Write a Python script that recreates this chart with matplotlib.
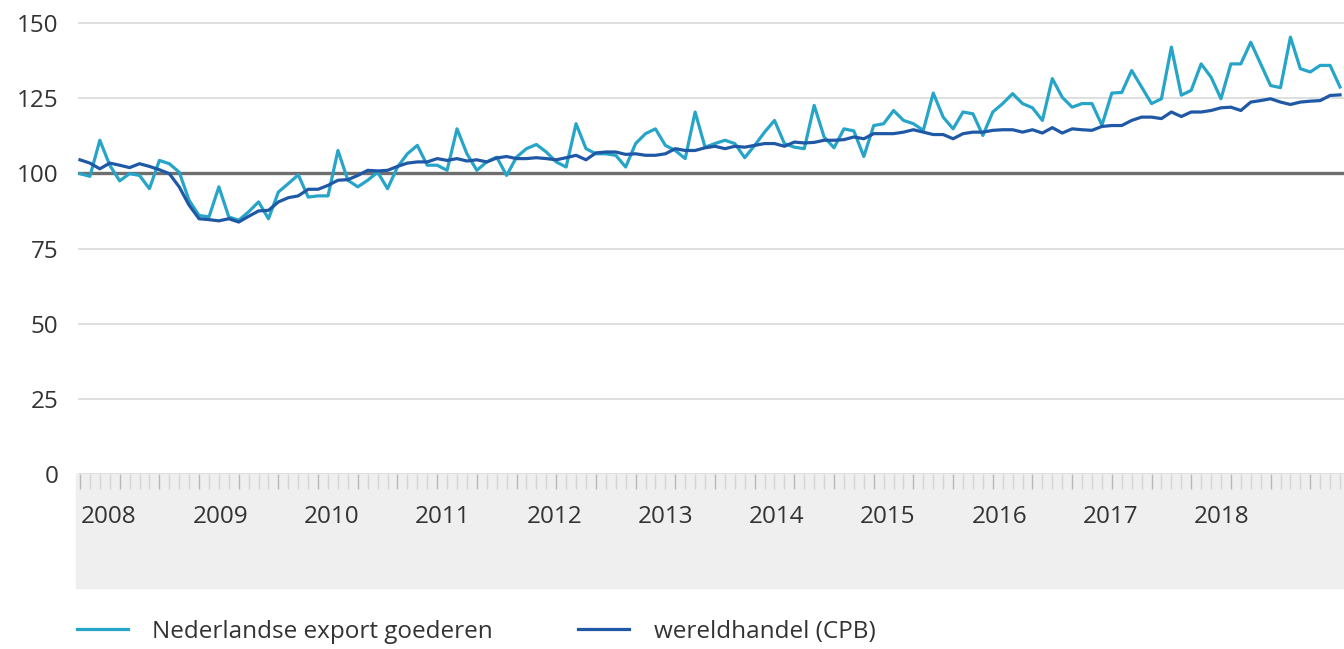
import numpy as np
import matplotlib.pyplot as plt
from matplotlib.patches import Rectangle

# maandcijfers, januari 2008 t/m augustus 2018 (index 2008 = 100)
export = [
    99.9, 99.0, 111.0, 102.7, 97.5, 99.9, 99.3, 94.9, 104.3, 103.2, 100.4, 91.0,
    86.0, 85.5, 95.5, 85.5, 84.4, 87.2, 90.5, 84.9, 93.8, 96.6, 99.5, 92.1,
    92.5, 92.5, 107.6, 97.7, 95.5, 97.7, 100.4, 94.9, 102.1, 106.5, 109.3, 102.7,
    102.7, 101.0, 114.8, 106.5, 101.0, 103.8, 105.4, 99.3, 105.4, 108.2, 109.6, 107.1,
    103.8, 102.1, 116.5, 108.2, 106.5, 106.5, 106.0, 102.1, 109.9, 113.2, 114.8, 109.3,
    107.6, 104.9, 120.4, 108.7, 109.9, 111.0, 109.9, 105.2, 109.3, 113.7, 117.6, 109.9,
    108.7, 108.2, 122.6, 112.1, 108.5, 114.8, 114.1, 105.6, 115.9, 116.5, 120.9, 117.6,
    116.5, 114.3, 126.7, 118.7, 114.8, 120.4, 119.8, 112.6, 120.4, 123.2, 126.5, 123.2,
    121.8, 117.6, 131.5, 125.3, 122.0, 123.2, 123.2, 116.0, 126.7, 126.9, 134.2, 128.7,
    123.2, 124.8, 142.0, 126.0, 127.6, 136.4, 132.0, 124.8, 136.4, 136.4, 143.6, 136.4,
    129.2, 128.5, 145.3, 134.8, 133.7, 135.9, 135.9, 128.7,
]
wereldhandel = [
    104.5, 103.4, 101.5, 103.4, 102.7, 101.9, 103.2, 102.3, 101.2, 99.9, 95.5, 89.4,
    84.9, 84.6, 84.2, 84.9, 83.8, 85.7, 87.5, 87.7, 90.5, 91.9, 92.5, 94.7,
    94.7, 96.0, 97.7, 97.9, 99.3, 101.0, 100.8, 101.0, 102.3, 103.4, 103.8, 103.8,
    104.9, 104.3, 104.9, 104.1, 104.5, 103.8, 105.1, 105.6, 104.9, 104.9, 105.2, 104.9,
    104.5, 105.2, 106.0, 104.5, 106.8, 107.1, 107.1, 106.3, 106.5, 106.0, 106.0, 106.5,
    108.2, 107.6, 107.6, 108.5, 109.0, 108.2, 109.0, 108.7, 109.3, 109.9, 109.9, 109.0,
    110.4, 110.1, 110.3, 111.0, 111.0, 111.2, 112.1, 111.5, 113.2, 113.2, 113.2, 113.7,
    114.5, 113.7, 112.9, 112.9, 111.5, 113.2, 113.7, 113.7, 114.3, 114.5, 114.5, 113.7,
    114.5, 113.4, 115.2, 113.4, 114.8, 114.5, 114.3, 115.6, 115.9, 115.9, 117.6, 118.7,
    118.7, 118.2, 120.4, 118.9, 120.4, 120.4, 120.9, 121.8, 122.0, 120.9, 123.7, 124.2,
    124.8, 123.7, 122.9, 123.7, 124.0, 124.2, 125.9, 126.1,
]
jaren = ['2008', '2009', '2010', '2011', '2012', '2013',
         '2014', '2015', '2016', '2017', '2018']
labels = ['Nederlandse export goederen', 'wereldhandel (CPB)']

plt.rcParams['font.family'] = ['Open Sans', 'DejaVu Sans']

W, H = 1344, 649
fs = 17.5
fig = plt.figure(figsize=(W / 100, H / 100), dpi=100)
ax = fig.add_axes([78 / W, 175 / H, 1266 / W, 454 / H])

maand = np.arange(len(export))

# grijze band onder de x-as
band = Rectangle((76 / W, 61 / H), (W - 76) / W, 114 / H,
                 transform=fig.transFigure, color='#efefef', zorder=-1)
fig.add_artist(band)

ax.axhline(100, color='#6e6e6e', lw=2.4, zorder=2)
l1, = ax.plot(maand, export, color='#27a5c9', lw=2.3, zorder=3)
l2, = ax.plot(maand, wereldhandel, color='#1f59a6', lw=2.3, zorder=4)

ax.set_ylim(0, 151)
ax.set_xlim(-0.2, 127.4)
ax.set_yticks(range(0, 151, 25))
ax.grid(axis='y', color='#d9d9d9', lw=1.2)
ax.set_axisbelow(True)
for s in ax.spines.values():
    s.set_visible(False)

ax.tick_params(axis='y', length=0, pad=14, labelsize=fs, labelcolor='#333333')
ax.set_xticks(np.arange(0, len(export), 4))
ax.set_xticks(maand, minor=True)
ax.set_xticklabels([])
ax.tick_params(axis='x', which='major', length=11, width=1, color='#b8b8b8')
ax.tick_params(axis='x', which='minor', length=11, width=1, color='#d4d4d4')

sec = ax.secondary_xaxis('bottom')
sec.set_xticks(0.1 + np.arange(len(jaren)) * 11.22, labels=jaren)
sec.tick_params(length=0, pad=22, labelsize=fs, labelcolor='#333333')
for lab in sec.get_xticklabels():
    lab.set_ha('left')
for s in sec.spines.values():
    s.set_visible(False)

fig.legend([l1, l2], labels, loc='center left', bbox_to_anchor=(77 / W, 17 / H),
           ncol=2, frameon=False, fontsize=fs, handlelength=2.1,
           handletextpad=1.0, columnspacing=3.5, borderpad=0, borderaxespad=0,
           labelcolor='#333333')

fig.savefig('out.png', dpi=100)
